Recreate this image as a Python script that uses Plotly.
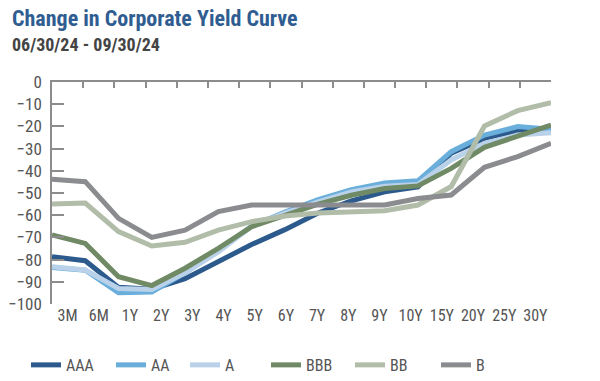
import plotly.graph_objects as go

tenors = ["3M", "6M", "1Y", "2Y", "3Y", "4Y", "5Y", "6Y", "7Y", "8Y", "9Y", "10Y", "15Y", "20Y", "25Y", "30Y"]

aaa = [-78.7, -80.5, -92.5, -93.4, -88.6, -80.9, -73.2, -66.5, -59.0, -53.5, -49.5, -47.2, -32.1, -25.4, -21.9, -21.6]
aa  = [-83.5, -84.8, -94.9, -94.6, -86.0, -76.0, -65.0, -58.6, -53.0, -48.5, -45.5, -44.5, -31.4, -23.9, -20.1, -21.3]
a   = [-83.2, -84.7, -93.0, -93.5, -86.0, -76.5, -65.0, -59.0, -54.0, -49.5, -47.0, -46.2, -35.1, -27.6, -23.9, -22.8]
bbb = [-68.9, -72.7, -87.7, -91.7, -83.9, -74.9, -65.2, -59.9, -55.0, -51.0, -48.0, -46.8, -38.9, -29.4, -24.6, -19.4]
bb  = [-55.0, -54.5, -67.4, -73.9, -72.2, -66.7, -62.9, -60.4, -59.0, -58.6, -58.0, -55.4, -47.1, -19.8, -12.9, -9.3]
b   = [-43.8, -44.9, -61.4, -70.0, -66.7, -58.4, -55.4, -55.4, -55.4, -55.4, -55.4, -52.5, -50.9, -38.4, -33.6, -27.6]

series = [
    ("AAA", aaa, "#2c5a8c"),
    ("AA", aa, "#6aaedb"),
    ("A", a, "#bad2e9"),
    ("BBB", bbb, "#6f8a64"),
    ("BB", bb, "#b1bca9"),
    ("B", b, "#8b8c8f"),
]
legend_x_px = [18, 103, 177, 258, 342, 428]

FONT = "Liberation Sans Narrow, Roboto Condensed, DejaVu Sans Condensed, Arial Narrow, sans-serif"
AXC = "#8c8c8c"

# page body has an 8px default margin; figure is sized to fit the 600x381 window
W, H = 592, 373

fig = go.Figure()
idx = list(range(len(tenors)))
legend_layouts = {}
for k, (name, vals, col) in enumerate(series):
    lname = "legend" if k == 0 else f"legend{k + 1}"
    fig.add_trace(go.Scatter(x=idx, y=vals, name=name, mode="lines", legend=lname,
                             line=dict(color=col, width=5), hoverinfo="skip"))
    legend_layouts[lname] = dict(orientation="h", xref="container", yref="container",
                                 x=legend_x_px[k] / W, y=0.043, xanchor="left", yanchor="middle",
                                 font=dict(size=16, color="#555555", family=FONT),
                                 bgcolor="rgba(0,0,0,0)")

# dummy traces so overlay axes are rendered
fig.add_trace(go.Scatter(x=[], y=[], xaxis="x2", showlegend=False, hoverinfo="skip"))
fig.add_trace(go.Scatter(x=[], y=[], xaxis="x3", showlegend=False, hoverinfo="skip"))

fig.update_layout(
    width=W, height=H,
    margin=dict(l=44, r=49, t=74, b=77),
    paper_bgcolor="white", plot_bgcolor="white",
    font=dict(family=FONT, color="#555555", size=16),
    xaxis=dict(range=[0, len(tenors) - 1], showticklabels=False, showgrid=False,
               zeroline=False, showline=False, ticks="", automargin=False),
    xaxis2=dict(overlaying="x", anchor="y", side="bottom", range=[-0.5, len(tenors) - 0.5],
                tickmode="array", tickvals=idx, ticktext=tenors, showgrid=False,
                zeroline=False, showline=False, ticks="", ticklen=0, automargin=False,
                tickfont=dict(size=16, color="#555555", family=FONT)),
    xaxis3=dict(overlaying="x", anchor="y", side="top", range=[0, len(tenors)],
                tickmode="linear", tick0=0, dtick=1, ticks="inside", ticklen=6,
                tickcolor=AXC, tickwidth=1.5, showticklabels=False, showgrid=False,
                zeroline=False, showline=True, linecolor=AXC, linewidth=1.5, automargin=False),
    yaxis=dict(range=[-100, 0], tickmode="linear", tick0=0, dtick=10, ticks="inside",
               ticklen=12, tickcolor=AXC, tickwidth=1.5, showline=True, linecolor=AXC,
               linewidth=1.5, showgrid=False, zeroline=False, ticklabelstandoff=5,
               automargin=False,
               tickfont=dict(size=17, color="#555555", family=FONT)),
    showlegend=True,
    annotations=[
        dict(text="<b>Change in Corporate Yield Curve</b>", xref="paper", yref="paper",
             x=-42 / 499, y=(296 - 10) / 222, xanchor="left", yanchor="middle", showarrow=False,
             font=dict(size=22, color="#2f5d91", family=FONT)),
        dict(text="<b>06/30/24 - 09/30/24</b>", xref="paper", yref="paper",
             x=-42 / 499, y=(296 - 37) / 222, xanchor="left", yanchor="middle", showarrow=False,
             font=dict(size=18, color="#444444", family=FONT)),
    ],
)
fig.update_layout(**legend_layouts)

fig.write_html("out.html")
